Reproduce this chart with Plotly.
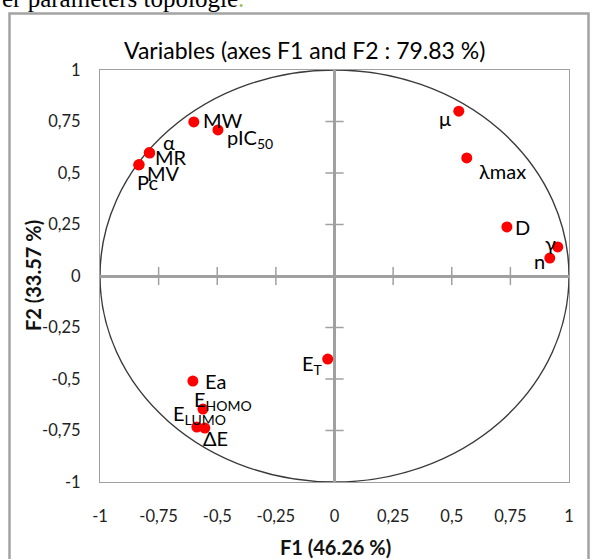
import plotly.graph_objects as go

# ---- data ----
variables = ["MW", "pIC<sub>50</sub>", "α", "MR", "MV", "Pc", "μ", "λmax", "D", "γ", "n",
             "E<sub>T</sub>", "Ea", "E<sub>HOMO</sub>", "E<sub>LUMO</sub>", "ΔE"]
f1_values = [-0.60, -0.497, -0.788, -0.790, -0.835, -0.833, 0.53, 0.564, 0.735, 0.952, 0.918,
             -0.029, -0.604, -0.561, -0.587, -0.553]
f2_values = [0.748, 0.709, 0.597, 0.599, 0.539, 0.541, 0.80, 0.573, 0.238, 0.141, 0.087,
             -0.403, -0.51, -0.646, -0.733, -0.738]
tick_values = [-1, -0.75, -0.5, -0.25, 0, 0.25, 0.5, 0.75, 1]
tick_labels = ["-1", "-0,75", "-0,5", "-0,25", "0", "0,25", "0,5", "0,75", "1"]
title_text = "Variables (axes F1 and F2 : 79.83 %)"
x_title = "F1 (46.26 %)"
y_title = "F2 (33.57 %)"
circle_radius = 1

# ---- label placement styles (anchor, xshift px, yshift px) ----
label_style = {
    "MW": ("left", 7, 2),
    "pIC<sub>50</sub>": ("left", 7, -9),
    "α": ("left", 11, 11),
    "MR": ("left", 4, -4),
    "MV": ("left", 6, -8),
    "Pc": ("left", -4, -17),
    "μ": ("right", -6, -7),
    "λmax": ("left", 10, -13),
    "D": ("left", 6, 0),
    "γ": ("right", 0, 4),
    "n": ("right", -3, -3),
    "E<sub>T</sub>": ("right", -3, -5),
    "Ea": ("left", 10, 0),
    "E<sub>HOMO</sub>": ("left", -11, 9),
    "E<sub>LUMO</sub>": ("left", -26, 13),
    "ΔE": ("left", -4, -10),
}

FONT = "Lato, 'Open Sans', sans-serif"
W, H = 592, 559
L, R, T, B = 100, 23, 70, 77
PW, PH = W - L - R, H - T - B


def px_x(px):
    return (px - L) / PW


def px_y(py):
    return (H - B - py) / PH


fig = go.Figure()

# tick marks on the zero axes
inner_ticks = [v for v in tick_values if v not in (-1, 0, 1)]
fig.add_trace(go.Scatter(
    x=inner_ticks, y=[0] * len(inner_ticks), mode="markers",
    marker=dict(symbol="line-ns", size=13, line=dict(color="#a0a0a0", width=1.5)),
    hoverinfo="skip", showlegend=False))
fig.add_trace(go.Scatter(
    x=[0] * len(inner_ticks), y=inner_ticks, mode="markers",
    marker=dict(symbol="line-ew", size=13, line=dict(color="#a0a0a0", width=1.5)),
    hoverinfo="skip", showlegend=False))

# variable points
fig.add_trace(go.Scatter(
    x=f1_values, y=f2_values, mode="markers",
    marker=dict(color="#ff0000", size=11, line=dict(width=0)),
    showlegend=False, hoverinfo="text", text=variables))

# correlation circle
fig.add_shape(type="circle", xref="x", yref="y",
              x0=-circle_radius, y0=-circle_radius, x1=circle_radius, y1=circle_radius,
              line=dict(color="#3a3a3a", width=1.4), layer="below")

# outer chart frame
fig.add_shape(type="rect", xref="paper", yref="paper",
              x0=px_x(9.5), x1=px_x(588.5), y0=px_y(600), y1=px_y(13.5),
              line=dict(color="#a3a3a3", width=2.5), fillcolor="rgba(0,0,0,0)")

annotations = []
for name, x, y in zip(variables, f1_values, f2_values):
    anchor, xs, ys = label_style[name]
    annotations.append(dict(x=x, y=y, xref="x", yref="y", text=name, showarrow=False,
                            xanchor=anchor, yanchor="middle", xshift=xs, yshift=ys,
                            font=dict(family=FONT, size=20, color="#000000")))

annotations.append(dict(x=px_x(304), y=px_y(50), xref="paper", yref="paper",
                        text=title_text, showarrow=False, xanchor="center", yanchor="middle",
                        font=dict(family=FONT, size=23, color="#000000")))
annotations.append(dict(x=px_x(335), y=px_y(547), xref="paper", yref="paper",
                        text="<b>" + x_title + "</b>", showarrow=False,
                        xanchor="center", yanchor="middle",
                        font=dict(family=FONT, size=20, color="#111111")))
annotations.append(dict(x=px_x(33), y=px_y(276), xref="paper", yref="paper",
                        text="<b>" + y_title + "</b>", showarrow=False, textangle=-90,
                        xanchor="center", yanchor="middle",
                        font=dict(family=FONT, size=20, color="#111111")))
annotations.append(dict(x=px_x(0), y=px_y(14), xref="paper", yref="paper",
                        text='er parameters topologie<span style="color:#9bbb59">.</span>',
                        showarrow=False, xanchor="left", yanchor="bottom",
                        font=dict(family="Liberation Serif, serif", size=25, color="#000000")))

axis_common = dict(
    range=[-1, 1], tickvals=tick_values, ticktext=tick_labels,
    showgrid=False, zeroline=True, zerolinecolor="#a0a0a0", zerolinewidth=2.5,
    showline=True, linecolor="#a0a0a0", linewidth=1.2, mirror=True,
    ticks="outside", tickcolor="rgba(0,0,0,0)",
    tickfont=dict(family=FONT, size=16.5, color="#222222"),
    fixedrange=True,
)

fig.update_layout(
    width=W, height=H, autosize=False,
    margin=dict(l=L, r=R, t=T, b=B, pad=0),
    paper_bgcolor="white", plot_bgcolor="white",
    xaxis=dict(axis_common, ticklen=19),
    yaxis=dict(axis_common, ticklen=15),
    annotations=annotations,
    showlegend=False,
)

fig.write_html("out.html")
